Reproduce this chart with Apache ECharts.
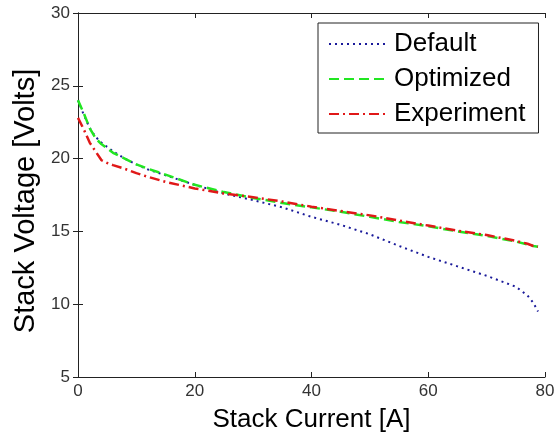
<!DOCTYPE html>
<html>
<head>
<meta charset="utf-8">
<script src="https://cdn.jsdelivr.net/npm/echarts@6/dist/echarts.min.js"></script>
<style>
  html, body { margin: 0; padding: 0; background: #fff; }
  #chart { width: 560px; height: 436px; }
</style>
</head>
<body>
<div id="chart"></div>
<script>
// 数据
const current = [0, 1, 2, 3, 4, 5, 6, 8, 10, 12, 15, 20, 25, 30, 35, 40, 45, 50, 55, 60, 65, 70, 75, 77, 78, 78.8]
const defaultV = [24.0, 23.0, 22.1, 21.5, 21.1, 20.8, 20.5, 20.0, 19.6, 19.25, 18.85, 18.2, 17.6, 17.15, 16.65, 16.0, 15.45, 14.8, 14.0, 13.25, 12.6, 11.95, 11.2, 10.6, 10.1, 9.5]
const optimizedV = [24.0, 23.1, 22.1, 21.4, 21.0, 20.7, 20.4, 20.0, 19.6, 19.3, 18.9, 18.2, 17.7, 17.3, 16.95, 16.65, 16.35, 16.0, 15.65, 15.35, 15.0, 14.7, 14.3, 14.1, 14.0, 13.95]
const experimentV = [22.8, 22.0, 21.1, 20.5, 19.9, 19.7, 19.55, 19.3, 19.0, 18.75, 18.4, 17.95, 17.6, 17.35, 17.05, 16.7, 16.4, 16.1, 15.75, 15.4, 15.05, 14.75, 14.35, 14.15, 14.0, 13.95]
const xTicks = [0, 20, 40, 60, 80]
const yTicks = [5, 10, 15, 20, 25, 30]

const pairs = (ys) => current.map((x, i) => [x, ys[i]])

const chart = echarts.init(document.getElementById('chart'))

const FONT = 'Liberation Sans, Arial, sans-serif'
// 公共坐标轴样式
const axisLine = { show: true, lineStyle: { color: '#222', width: 1 } }
const axisTick = { show: true, inside: true, length: 5, lineStyle: { color: '#222' } }
const tickLabel = { color: '#333', fontSize: 17, fontFamily: FONT }

chart.setOption({
  animation: false,
  grid: { left: 78, top: 13, right: 15, bottom: 59, outerBoundsMode: 'none' },
  legend: {
    orient: 'vertical',
    left: 318,
    top: 23,
    padding: [8, 13, 6, 10],
    itemWidth: 60,
    itemHeight: 14,
    itemGap: 9,
    borderColor: '#222',
    borderWidth: 1,
    backgroundColor: '#fff',
    itemStyle: { opacity: 0 },
    textStyle: { color: '#000', fontSize: 26, fontFamily: FONT },
    data: ['Default', 'Optimized', 'Experiment']
  },
  xAxis: [
    {
      type: 'value', min: 0, max: 80, interval: 20,
      name: 'Stack Current [A]', nameLocation: 'middle', nameGap: 30,
      nameTextStyle: { color: '#000', fontSize: 26, fontFamily: FONT },
      axisLine, axisTick,
      axisLabel: { ...tickLabel, margin: 6 },
      splitLine: { show: false }
    },
    {
      type: 'value', min: 0, max: 80, interval: 20, position: 'top',
      axisLine, axisTick, axisLabel: { show: false }, splitLine: { show: false }
    }
  ],
  yAxis: [
    {
      type: 'value', min: 5, max: 30, interval: 5,
      name: 'Stack Voltage [Volts]', nameLocation: 'middle', nameGap: 35,
      nameTextStyle: { color: '#000', fontSize: 29, fontFamily: FONT, padding: [0, 12, 0, 0] },
      axisLine, axisTick,
      axisLabel: { ...tickLabel, margin: 8 },
      splitLine: { show: false }
    },
    {
      type: 'value', min: 5, max: 30, interval: 5, position: 'right',
      axisLine, axisTick, axisLabel: { show: false }, splitLine: { show: false }
    }
  ],
  series: [
    {
      name: 'Default', type: 'line', data: pairs(defaultV),
      showSymbol: false, symbol: 'none',
      lineStyle: { color: '#1a1a9a', width: 2, type: [2, 4] },
      itemStyle: { color: '#1a1a9a' }
    },
    {
      name: 'Optimized', type: 'line', data: pairs(optimizedV),
      showSymbol: false, symbol: 'none',
      lineStyle: { color: '#22e622', width: 2.5, type: [10, 5] },
      itemStyle: { color: '#22e622' }
    },
    {
      name: 'Experiment', type: 'line', data: pairs(experimentV),
      showSymbol: false, symbol: 'none',
      lineStyle: { color: '#e01818', width: 2.5, type: [10, 4, 2, 4] },
      itemStyle: { color: '#e01818' }
    }
  ]
})
</script>
</body>
</html>
